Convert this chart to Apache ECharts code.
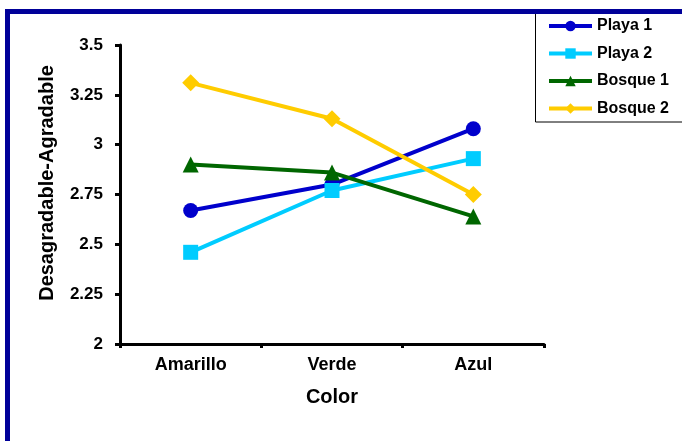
<!DOCTYPE html>
<html>
<head>
<meta charset="utf-8">
<script src="https://cdn.jsdelivr.net/npm/echarts@6/dist/echarts.min.js"></script>
<style>html,body{margin:0;padding:0;background:#fff}#c{width:682px;height:441px}</style>
</head>
<body>
<div id="c"></div>
<script>
var categories = ['Amarillo', 'Verde', 'Azul'];
var playa1 = [2.67, 2.80, 3.08];
var playa2 = [2.46, 2.77, 2.93];
var bosque1 = [2.90, 2.86, 2.64];
var bosque2 = [3.31, 3.13, 2.75];
var seriesNames = ['Playa 1', 'Playa 2', 'Bosque 1', 'Bosque 2'];
var yTicks = [2, 2.25, 2.5, 2.75, 3, 3.25, 3.5];
var xTitle = 'Color';
var yTitle = 'Desagradable-Agradable';

var font = 'Liberation Sans, Arial, sans-serif';
var chart = echarts.init(document.getElementById('c'), null, {renderer: 'canvas'});

function mk(name, data, color, symbol, size) {
  return {
    name: name, type: 'line', data: data,
    symbol: symbol, symbolSize: size, showSymbol: true,
    lineStyle: {color: color, width: 4},
    itemStyle: {color: color},
    emphasis: {disabled: true},
    animation: false, z: 3
  };
}

chart.setOption({
  animation: false,
  backgroundColor: '#fff',
  grid: {left: 120, top: 45, width: 424, height: 299, containLabel: false},
  legend: {
    orient: 'vertical', left: 547, top: 18, padding: 0,
    itemWidth: 43, itemHeight: 13, itemGap: 11.5,
    lineStyle: {width: 4},
    textStyle: {fontFamily: font, fontWeight: 'bold', fontSize: 16, color: '#000', lineHeight: 16},
    data: seriesNames
  },
  xAxis: {
    type: 'category', data: categories, boundaryGap: true,
    name: xTitle, nameLocation: 'middle', nameGap: 43,
    nameTextStyle: {fontFamily: font, fontWeight: 'bold', fontSize: 20, color: '#000'},
    axisLine: {lineStyle: {color: '#000', width: 3}},
    axisTick: {show: true, length: 4, lineStyle: {color: '#000', width: 3}},
    axisLabel: {fontFamily: font, fontWeight: 'bold', fontSize: 18, color: '#000', margin: 12},
    splitLine: {show: false}
  },
  yAxis: {
    type: 'value', min: 2, max: 3.5, interval: 0.25,
    axisLine: {show: true, lineStyle: {color: '#000', width: 3}},
    axisTick: {show: true, length: 5, lineStyle: {color: '#000', width: 3}},
    axisLabel: {fontFamily: font, fontWeight: 'bold', fontSize: 17, color: '#000', margin: 17,
      formatter: function (v) { return String(+v.toFixed(2)); }},
    splitLine: {show: false}
  },
  graphic: [
    {type: 'rect', shape: {x: 535.5, y: 10, width: 200, height: 112}, style: {fill: 'none', stroke: '#000', lineWidth: 1}, z: 0},
    {type: 'rect', shape: {x: 7.5, y: 11.5, width: 720, height: 460}, style: {fill: 'none', stroke: '#000099', lineWidth: 5}, z: 10},
    {type: 'text', x: 47, y: 183, rotation: Math.PI / 2,
      style: {text: yTitle, fontFamily: font, fontWeight: 'bold', fontSize: 20, fill: '#000', textAlign: 'center', textVerticalAlign: 'middle'}}
  ],
  series: [
    mk(seriesNames[0], playa1, '#0000CC', 'circle', 15),
    mk(seriesNames[1], playa2, '#00CCFF', 'rect', 15),
    mk(seriesNames[2], bosque1, '#006600', 'triangle', 16),
    mk(seriesNames[3], bosque2, '#FFCC00', 'diamond', 17)
  ]
});
</script>
</body>
</html>
